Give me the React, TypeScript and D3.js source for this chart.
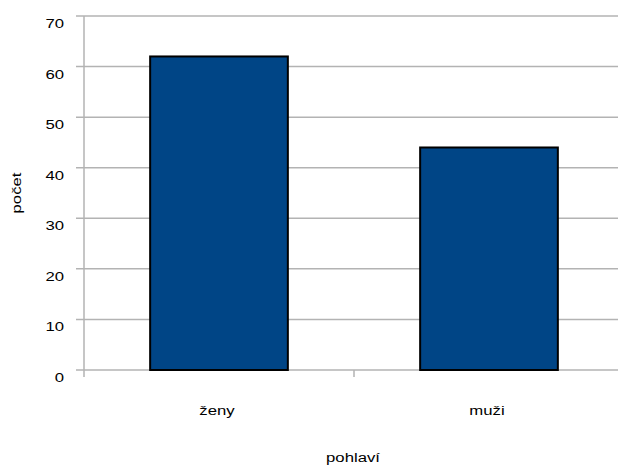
import React from "react";
import * as d3 from "d3";

const categories = ["ženy", "muži"];
const values = [62, 44];
const yTicks = [0, 10, 20, 30, 40, 50, 60, 70];
const xTitle = "pohlaví";
const yTitle = "počet";

export default function App() {
  const W = 618, H = 466;
  const left = 84, right = 624, top = 16, bottom = 370;
  const x = d3.scaleBand<string>().domain(categories).range([left, right]).paddingInner(0.49).paddingOuter(0.245);
  const y = d3.scaleLinear().domain([0, 70]).range([bottom, top]);
  const font = "'Liberation Sans', Arial, sans-serif";
  const grid = "#b3b3b3";
  const step = (right - left) / categories.length;
  const sx = 1.24;
  const fs = 13.5;
  const T = (px: number, py: number, anchor: string, s: string, rot = 0) => (
    <text transform={`translate(${px},${py}) rotate(${rot}) scale(${sx},1)`} textAnchor={anchor} fontSize={fs} fill="#000">{s}</text>
  );
  return (
    <svg width={W} height={H} style={{ position: "absolute", left: 0, top: 0 }} fontFamily={font}>
      <rect width={W} height={H} fill="#fff" />
      {yTicks.map((t) => (
        <g key={t}>
          <line x1={76} x2={right} y1={y(t)} y2={y(t)} stroke={grid} strokeWidth={1.5} />
          {T(64, y(t) + 12, "end", String(t))}
        </g>
      ))}
      <line x1={left} x2={left} y1={top} y2={bottom + 7} stroke={grid} strokeWidth={1.5} />
      {categories.map((c, i) => (
        <line key={c} x1={left + step * (i + 1)} x2={left + step * (i + 1)} y1={bottom} y2={bottom + 7} stroke={grid} strokeWidth={1.5} />
      ))}
      {categories.map((c, i) => (
        <rect key={c} x={x(c)} y={y(values[i])} width={x.bandwidth()} height={bottom - y(values[i])} fill="#004586" stroke="#000" strokeWidth={2} />
      ))}
      {categories.map((c) => (
        <g key={c}>{T((x(c) as number) + x.bandwidth() / 2 - 2, 415, "middle", c)}</g>
      ))}
      {T(353, 462, "middle", xTitle)}
      {T(21, (top + bottom) / 2, "middle", yTitle, -90)}
    </svg>
  );
}
